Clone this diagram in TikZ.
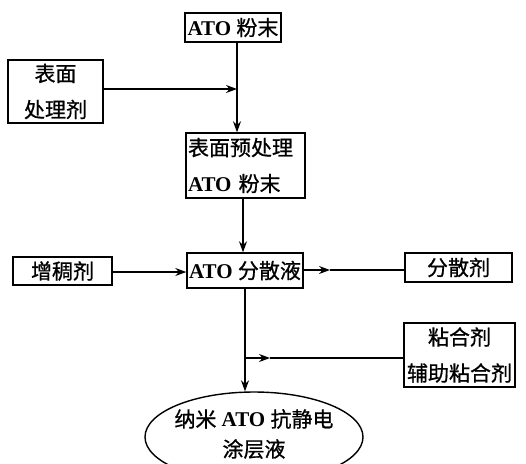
\documentclass[tikz,border=0pt]{standalone}
\usepackage{fontspec}
\setmainfont{Liberation Serif}
\newfontfamily\cjk[FakeBold=0.8]{Noto Sans CJK SC}
\usetikzlibrary{arrows.meta,shapes.geometric}
\newcommand\zh[1]{{\cjk #1}}
\begin{document}
\begin{tikzpicture}[x=1pt,y=-1pt,
  box/.style={draw,line width=1.4pt,inner sep=0pt,font=\fontsize{21}{36}\selectfont},
  conn/.style={line width=1.1pt},
  arr/.style={conn,-{Stealth[length=11pt,width=8pt]}}]
\useasboundingbox (0,0) rectangle (526,463);
\node[box,minimum width=96pt,minimum height=29pt] (top) at (233,27.5) {\textbf{ATO} \zh{粉末}};
\node[box,minimum width=95pt,minimum height=63pt,align=center] (bm) at (55.5,91.5) {\zh{表面}\\\zh{处理剂}};
\node[box,minimum width=119pt,minimum height=65pt,align=left,text width=115pt] (pre) at (245.5,165.5) {\zh{表面预处理}\\\textbf{ATO} \zh{粉末}};
\node[box,minimum width=116pt,minimum height=35pt] (dsy) at (245,270.5) {\textbf{ATO} \zh{分散液}};
\node[box,minimum width=99pt,minimum height=28pt] (zc) at (62.5,271) {\zh{增稠剂}};
\node[box,minimum width=107pt,minimum height=29pt] (fsj) at (458.5,267.5) {\zh{分散剂}};
\node[box,minimum width=111pt,minimum height=64pt,align=center] (nhj) at (459.5,355) {\zh{粘合剂}\\\zh{辅助粘合剂}};
\node[draw,line width=1.4pt,ellipse,inner sep=0pt,minimum width=218pt,minimum height=90pt,align=center,font=\fontsize{21}{30}\selectfont] (el) at (254,437) {};
\node[font=\fontsize{21}{30}\selectfont,align=center,inner sep=0pt] (elt) at (254,434) {\zh{纳米} \textbf{ATO} \zh{抗静电}\\\zh{涂层液}};
% connectors
\coordinate (j1) at (237,89);
\draw[arr] (top.south -| j1) -- (pre.north -| j1);
\draw[arr] (bm.east |- j1) -- (j1);
\coordinate (j2) at (243,0);
\draw[arr] (pre.south -| j2) -- (dsy.north -| j2);
\coordinate (j3) at (0,272);
\draw[arr] (zc.east |- j3) -- (dsy.west |- j3);
\coordinate (m1) at (330,270);
\draw[arr] (dsy.east |- m1) -- (m1);
\draw[conn] (m1) -- (fsj.west |- m1);
\coordinate (j4) at (245,358);
\coordinate (m2) at (270,358);
\draw[arr] (dsy.south -| j4) -- (el.north -| j4);
\draw[conn] (nhj.west |- j4) -- (m2);
\draw[arr] (j4) -- (m2);
\end{tikzpicture}
\end{document}
